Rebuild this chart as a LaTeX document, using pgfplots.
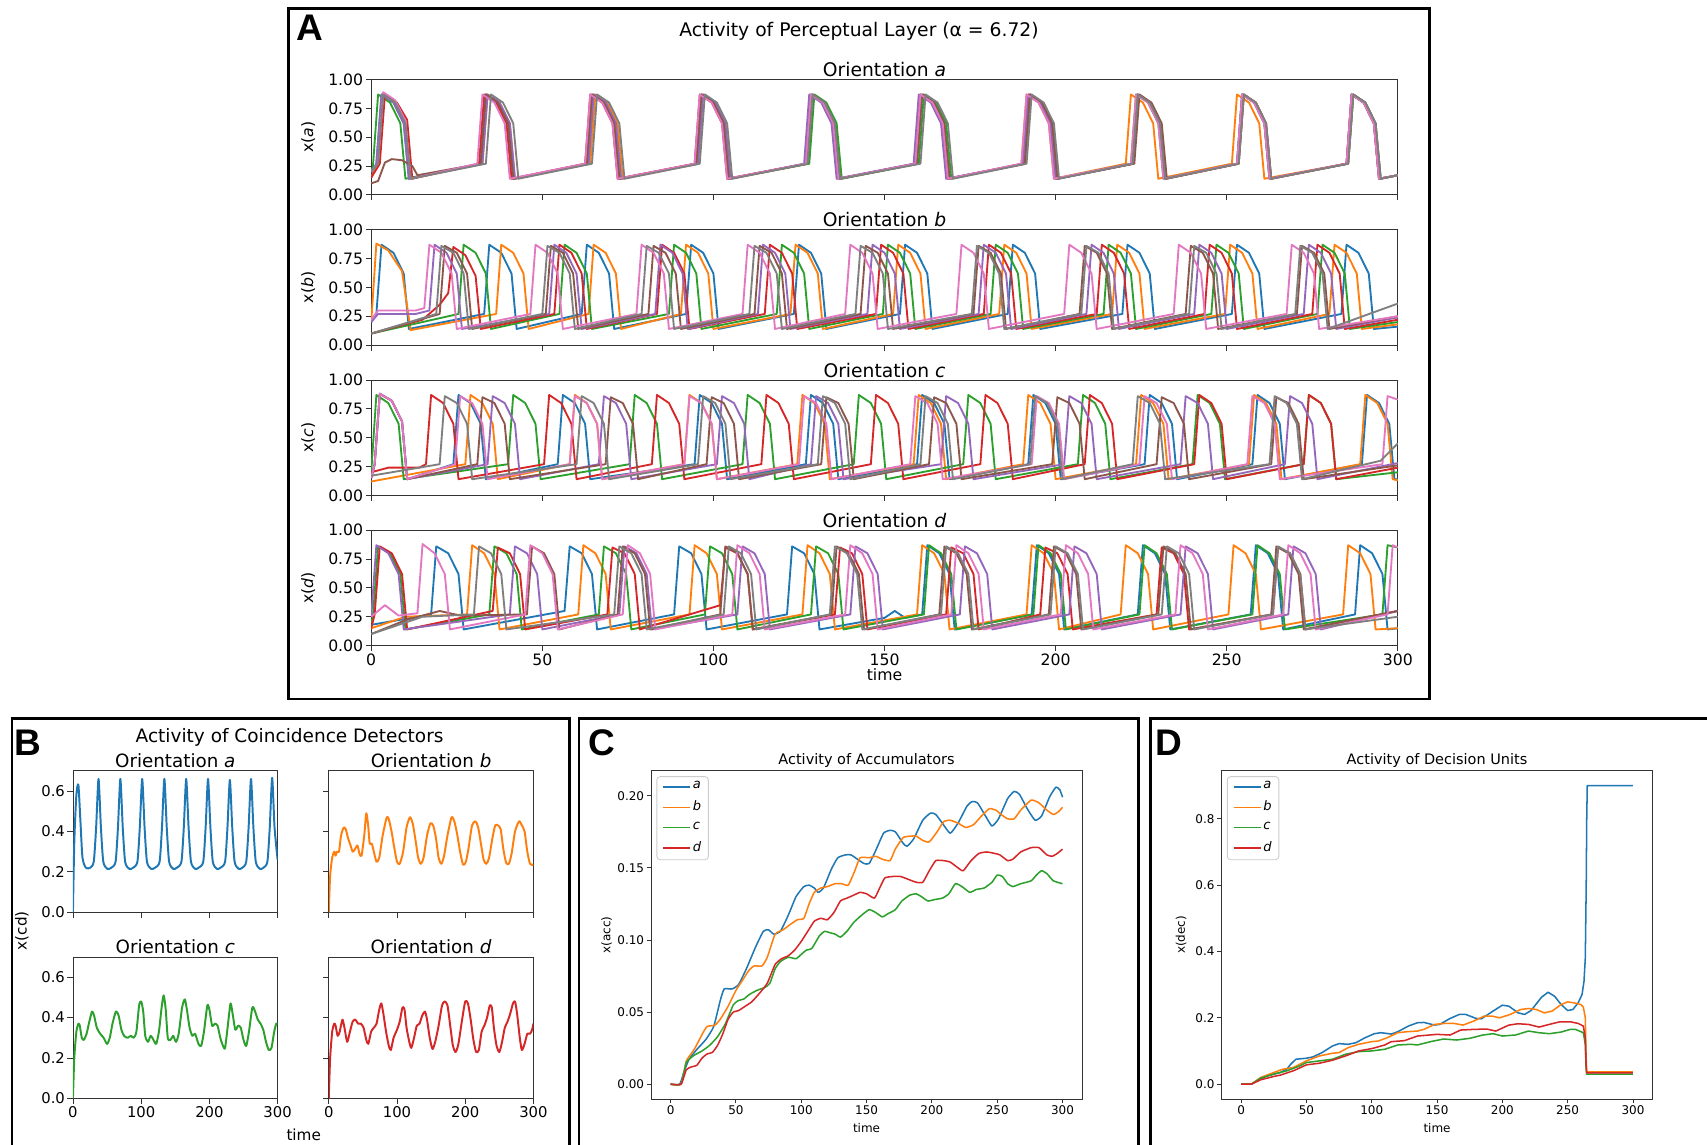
\documentclass[border=0pt]{standalone}
\usepackage{fontspec}
\setmainfont{DejaVu Sans}
\newfontfamily\lettfont{Liberation Sans}
\usepackage{pgfplots}
\pgfplotsset{compat=1.18}
\definecolor{c0}{HTML}{1F77B4}
\definecolor{c1}{HTML}{FF7F0E}
\definecolor{c2}{HTML}{2CA02C}
\definecolor{c3}{HTML}{D62728}
\definecolor{c4}{HTML}{9467BD}
\definecolor{c5}{HTML}{8C564B}
\definecolor{c6}{HTML}{E377C2}
\definecolor{c7}{HTML}{7F7F7F}
\pgfplotsset{
  base/.style={scale only axis, no markers, clip=true,
    axis line style={line width=0.4pt,black!80},
    tick style={line width=0.4pt,black!80},
    tick align=outside, tick pos=left,
    /pgf/number format/assume math mode=true,
    every axis title/.style={at={(0.5,1)},anchor=south,inner sep=0pt,yshift=2pt},
    tick label style={inner sep=1pt}},
  pA/.style={base, width=471.5pt, height=53pt, xmin=0, xmax=300, ymin=0, ymax=1,
    xtick={0,50,100,150,200,250,300}, ytick={0,0.25,0.5,0.75,1},
    yticklabel style={/pgf/number format/fixed,/pgf/number format/fixed zerofill,/pgf/number format/precision=2},
    major tick length=2.5pt,
    tick label style={font=\fontsize{7.2}{8}\selectfont},
    title style={font=\fontsize{8.6}{10}\selectfont, yshift=-1pt},
    ylabel style={font=\fontsize{7.2}{8}\selectfont, at={(axis description cs:-0.0615,0.5)}, anchor=center},
    every axis plot/.append style={line width=0.85pt, line join=round}},
  pB/.style={base, width=94pt, height=65pt, xmin=0, xmax=300, ymin=0, ymax=0.7,
    xtick={0,100,200,300}, ytick={0,0.2,0.4,0.6},
    yticklabel style={/pgf/number format/fixed,/pgf/number format/fixed zerofill,/pgf/number format/precision=1},
    major tick length=2.5pt,
    tick label style={font=\fontsize{6.8}{8}\selectfont},
    title style={font=\fontsize{8.4}{10}\selectfont, yshift=-0.7pt},
    every axis plot/.append style={line width=0.9pt, line join=round}},
  pC/.style={base, width=198pt, height=150.75pt, xmin=-15, xmax=315,
    xtick={0,50,100,150,200,250,300},
    major tick length=2pt,
    tick label style={font=\fontsize{5.5}{6.5}\selectfont},
    title style={font=\fontsize{6.65}{8}\selectfont, yshift=-0.6pt},
    label style={font=\fontsize{5.5}{6.5}\selectfont},
    xlabel style={at={(axis description cs:0.5,0)}, anchor=center, yshift=-13.25pt},
    every axis plot/.append style={line width=0.7pt, line join=round},
    legend style={at={(0,1)}, anchor=north west, xshift=2.5pt, yshift=-2.5pt,
      draw=black!20, line width=0.4pt, rounded corners=1.5pt, fill=white,
      inner xsep=2.5pt, inner ysep=1.5pt, font=\fontsize{6}{6.5}\selectfont,
      row sep=2.3pt, nodes={inner sep=0.8pt}, cells={anchor=west}},
    legend image code/.code={\draw[#1, line width=0.7pt] (0pt,0pt) -- (12.5pt,0pt);}},
}
\begin{document}
\begin{tikzpicture}
\path[use as bounding box] (0pt,0pt) rectangle (784pt,-525.5pt);
\clip (0pt,0pt) rectangle (784pt,-525.5pt);
\fill[white] (0pt,0pt) rectangle (784pt,-525.5pt);
% panel frames
\draw[line width=1.2pt] (132.5pt,-4pt) rectangle (656.5pt,-321pt);
\draw[line width=1.2pt] (5.5pt,-330pt) rectangle (261.5pt,-528pt);
\draw[line width=1.2pt] (266pt,-330pt) rectangle (523pt,-528pt);
\draw[line width=1.2pt] (528.5pt,-330pt) rectangle (790pt,-528pt);
\node[anchor=base west,inner sep=0pt,font=\lettfont\bfseries\fontsize{17}{17}\selectfont] at (136pt,-18.5pt) {A};
\node[anchor=base west,inner sep=0pt,font=\lettfont\bfseries\fontsize{17}{17}\selectfont] at (6.5pt,-347pt) {B};
\node[anchor=base west,inner sep=0pt,font=\lettfont\bfseries\fontsize{17}{17}\selectfont] at (270pt,-347pt) {C};
\node[anchor=base west,inner sep=0pt,font=\lettfont\bfseries\fontsize{17}{17}\selectfont] at (530.5pt,-347pt) {D};
\node[font=\fontsize{8.6}{10}\selectfont] at (394.5pt,-14.5pt) {Activity of Perceptual Layer (α = 6.72)};
\node[font=\fontsize{8.5}{10}\selectfont] at (133pt,-338.5pt) {Activity of Coincidence Detectors};
\node[font=\fontsize{7}{8}\selectfont,rotate=90] at (10pt,-427.5pt) {x(cd)};
\node[font=\fontsize{7}{8}\selectfont] at (139.5pt,-521pt) {time};

% ---------------- Panel A, orientation a
\begin{axis}[pA, at={(170.5pt,-89.5pt)}, anchor=south west, title={Orientation \textit{a}}, ylabel={x(\textit{a})}, xticklabels={}]
\addplot[c0] coordinates {(0,.15)(1.5,.27)(3,.87)(6.5,.8)(9.5,.62)(11,.14)(32,.27)(33.5,.87)(37,.8)(40,.62)(41.5,.14)(63.5,.27)(65,.87)(68.5,.8)(71.5,.62)(73,.14)(95,.27)(96.5,.87)(100,.8)(103,.62)(104.5,.14)(127,.27)(128.5,.87)(132,.8)(135,.62)(136.5,.14)(159,.27)(160.5,.87)(164,.8)(167,.62)(168.5,.14)(191,.27)(192.5,.87)(196,.8)(199,.62)(200.5,.14)(222.5,.27)(224,.87)(227.5,.8)(230.5,.62)(232,.14)(253,.27)(254.5,.87)(258,.8)(261,.62)(262.5,.14)(285,.27)(286.5,.87)(290,.8)(293,.62)(294.5,.14)(300,.17)};
\addplot[c1] coordinates {(0,.15)(2,.27)(3.5,.87)(7,.8)(10,.62)(11.5,.14)(32.5,.27)(34,.87)(37.5,.8)(40.5,.62)(42,.14)(64,.27)(65.5,.87)(69,.8)(72,.62)(73.5,.14)(95.5,.27)(97,.87)(100.5,.8)(103.5,.62)(105,.14)(127.5,.27)(129,.87)(132.5,.8)(135.5,.62)(137,.14)(159.5,.27)(161,.87)(164.5,.8)(167.5,.62)(169,.14)(190,.27)(191.5,.87)(195,.8)(198,.62)(199.5,.14)(220.5,.27)(222,.87)(225.5,.8)(228.5,.62)(230,.14)(251.5,.27)(253,.87)(256.5,.8)(259.5,.62)(261,.14)(285,.27)(286.5,.87)(290,.8)(293,.62)(294.5,.14)(300,.17)};
\addplot[c2] coordinates {(0,.2)(0.5,.25)(2,.87)(5.5,.8)(8.5,.62)(10,.14)(32,.27)(33.5,.87)(37,.8)(40,.62)(41.5,.14)(63,.27)(64.5,.87)(68,.8)(71,.62)(72.5,.14)(95,.27)(96.5,.87)(100,.8)(103,.62)(104.5,.14)(128,.27)(129.5,.87)(133,.8)(136,.62)(137.5,.14)(160,.27)(161.5,.87)(165,.8)(168,.62)(169.5,.14)(190.5,.27)(192,.87)(195.5,.8)(198.5,.62)(200,.14)(222,.27)(223.5,.87)(227,.8)(230,.62)(231.5,.14)(253,.27)(254.5,.87)(258,.8)(261,.62)(262.5,.14)(285.5,.27)(287,.87)(290.5,.8)(293.5,.62)(295,.14)(300,.17)};
\addplot[c3] coordinates {(0,.15)(2.5,.27)(4,.87)(7.5,.8)(10.5,.65)(12,.14)(31.5,.27)(33,.87)(36.5,.8)(39.5,.62)(41,.14)(62.5,.27)(64,.87)(67.5,.8)(70.5,.62)(72,.14)(94.5,.27)(96,.87)(99.5,.8)(102.5,.62)(104,.14)(127,.27)(128.5,.87)(132,.8)(135,.62)(136.5,.14)(159,.27)(160.5,.87)(164,.8)(167,.62)(168.5,.14)(191,.27)(192.5,.87)(196,.8)(199,.62)(200.5,.14)(222.5,.27)(224,.87)(227.5,.8)(230.5,.62)(232,.14)(253.5,.27)(255,.87)(258.5,.8)(261.5,.62)(263,.14)(285,.27)(286.5,.87)(290,.8)(293,.62)(294.5,.14)(300,.17)};
\addplot[c4] coordinates {(0,.2)(1.5,.27)(3,.87)(6.5,.8)(9.5,.62)(11,.14)(32.5,.27)(34,.87)(37.5,.8)(40.5,.62)(42,.14)(63.5,.27)(65,.87)(68.5,.8)(71.5,.62)(73,.14)(95.5,.27)(97,.87)(100.5,.8)(103.5,.62)(105,.14)(126.5,.27)(128,.87)(131.5,.8)(134.5,.62)(136,.14)(158.5,.27)(160,.87)(163.5,.8)(166.5,.62)(168,.14)(190.5,.27)(192,.87)(195.5,.8)(198.5,.62)(200,.14)(222.5,.27)(224,.87)(227.5,.8)(230.5,.62)(232,.14)(253,.27)(254.5,.87)(258,.8)(261,.62)(262.5,.14)(285,.27)(286.5,.87)(290,.8)(293,.62)(294.5,.14)(300,.17)};
\addplot[c5] coordinates {(0,.1)(2,.12)(4,.28)(6,.31)(9,.3)(12,.25)(13.5,.17)(32,.27)(33.5,.87)(37,.8)(40,.62)(41.5,.14)(63,.27)(64.5,.87)(68,.8)(71,.62)(72.5,.14)(95,.27)(96.5,.87)(100,.8)(103,.62)(104.5,.14)(127.5,.27)(129,.87)(132.5,.8)(135.5,.62)(137,.14)(159.5,.27)(161,.87)(164.5,.8)(167.5,.62)(169,.14)(191,.27)(192.5,.87)(196,.8)(199,.62)(200.5,.14)(223,.27)(224.5,.87)(228,.8)(231,.62)(232.5,.14)(253.5,.27)(255,.87)(258.5,.8)(261.5,.62)(263,.14)(285.5,.27)(287,.87)(290.5,.8)(293.5,.62)(295,.14)(300,.17)};
\addplot[c6] coordinates {(0,.2)(2,.27)(3.5,.89)(7,.82)(10,.64)(11.5,.14)(31,.27)(32.5,.87)(36,.8)(39,.62)(40.5,.14)(62.5,.27)(64,.87)(67.5,.8)(70.5,.62)(72,.14)(94.5,.27)(96,.87)(99.5,.8)(102.5,.62)(104,.14)(127,.27)(128.5,.87)(132,.8)(135,.62)(136.5,.14)(159,.27)(160.5,.87)(164,.8)(167,.62)(168.5,.14)(190,.27)(191.5,.87)(195,.8)(198,.62)(199.5,.14)(222,.27)(223.5,.87)(227,.8)(230,.62)(231.5,.14)(253,.27)(254.5,.87)(258,.8)(261,.62)(262.5,.14)(285,.27)(286.5,.87)(290,.8)(293,.62)(294.5,.14)(300,.17)};
\addplot[c7] coordinates {(0,.2)(2,.27)(3.5,.87)(7,.8)(10,.62)(11.5,.14)(33.5,.27)(35,.87)(38.5,.8)(41.5,.62)(43,.14)(64.5,.27)(66,.87)(69.5,.8)(72.5,.62)(74,.14)(96,.27)(97.5,.87)(101,.8)(104,.62)(105.5,.14)(127.5,.27)(129,.87)(132.5,.8)(135.5,.62)(137,.14)(160.5,.27)(162,.87)(165.5,.8)(168.5,.62)(170,.14)(191.5,.27)(193,.87)(196.5,.8)(199.5,.62)(201,.14)(222.5,.27)(224,.87)(227.5,.8)(230.5,.62)(232,.14)(253.5,.27)(255,.87)(258.5,.8)(261.5,.62)(263,.14)(285.5,.27)(287,.87)(290.5,.8)(293.5,.62)(295,.14)(300,.17)};
\end{axis}

% ---------------- Panel A, orientation b
\begin{axis}[pA, at={(170.5pt,-158.5pt)}, anchor=south west, title={Orientation \textit{b}}, ylabel={x(\textit{b})}, xticklabels={}]
\addplot[c0] coordinates {(0,.2)(1.5,.27)(3,.87)(6.5,.8)(9.5,.62)(11,.14)(33,.27)(34.5,.87)(38,.8)(41,.62)(42.5,.14)(61.5,.27)(63,.87)(66.5,.8)(69.5,.62)(71,.14)(92,.27)(93.5,.87)(97,.8)(100,.62)(101.5,.14)(123.5,.27)(125,.87)(128.5,.8)(131.5,.62)(133,.14)(154.5,.27)(156,.87)(159.5,.8)(162.5,.62)(164,.14)(186,.27)(187.5,.87)(191,.8)(194,.62)(195.5,.14)(219.5,.27)(221,.87)(224.5,.8)(227.5,.62)(229,.14)(251.5,.27)(253,.87)(256.5,.8)(259.5,.62)(261,.14)(283.5,.27)(285,.87)(288.5,.8)(291.5,.62)(293,.14)(300,.16)};
\addplot[c1] coordinates {(0,.2)(1.5,.88)(5,.82)(9,.64)(11.5,.13)(36.5,.27)(38,.87)(41.5,.8)(44.5,.62)(46,.14)(63.5,.27)(65,.87)(68.5,.8)(71.5,.62)(73,.14)(90.5,.27)(92,.87)(95.5,.8)(98.5,.62)(100,.14)(122.5,.27)(124,.87)(127.5,.8)(130.5,.62)(132,.14)(152.5,.27)(154,.87)(157.5,.8)(160.5,.62)(162,.14)(183.5,.27)(185,.87)(188.5,.8)(191.5,.62)(193,.14)(216.5,.27)(218,.87)(221.5,.8)(224.5,.62)(226,.14)(249.5,.27)(251,.87)(254.5,.8)(257.5,.62)(259,.14)(280,.27)(281.5,.87)(285,.8)(288,.62)(289.5,.14)(300,.18)};
\addplot[c2] coordinates {(0,.1)(25.5,.27)(27,.87)(30.5,.8)(33.5,.62)(35,.14)(55,.27)(56.5,.87)(60,.8)(63,.62)(64.5,.14)(87,.27)(88.5,.87)(92,.8)(95,.62)(96.5,.14)(118.5,.27)(120,.87)(123.5,.8)(126.5,.62)(128,.14)(149.5,.27)(151,.87)(154.5,.8)(157.5,.62)(159,.14)(181,.27)(182.5,.87)(186,.8)(189,.62)(190.5,.14)(214,.27)(215.5,.87)(219,.8)(222,.62)(223.5,.14)(245.5,.27)(247,.87)(250.5,.8)(253.5,.62)(255,.14)(276.5,.27)(278,.87)(281.5,.8)(284.5,.62)(286,.14)(300,.2)};
\addplot[c3] coordinates {(0,.1)(15,.22)(20,.35)(22.5,.45)(24,.85)(27.5,.78)(30.5,.6)(32,.14)(53.5,.27)(55,.87)(58.5,.8)(61.5,.62)(63,.14)(83.5,.27)(85,.87)(88.5,.8)(91.5,.62)(93,.14)(115,.27)(116.5,.87)(120,.8)(123,.62)(124.5,.14)(147.5,.27)(149,.87)(152.5,.8)(155.5,.62)(157,.14)(179,.27)(180.5,.87)(184,.8)(187,.62)(188.5,.14)(212,.27)(213.5,.87)(217,.8)(220,.62)(221.5,.14)(243.5,.27)(245,.87)(248.5,.8)(251.5,.62)(253,.14)(275,.27)(276.5,.87)(280,.8)(283,.62)(284.5,.14)(300,.22)};
\addplot[c4] coordinates {(0,.2)(2,.27)(13,.27)(17,.3)(18.5,.87)(22,.8)(25,.62)(26.5,.14)(52,.27)(53.5,.87)(57,.8)(60,.62)(61.5,.14)(83,.27)(84.5,.87)(88,.8)(91,.62)(92.5,.14)(113,.27)(114.5,.87)(118,.8)(121,.62)(122.5,.14)(145,.27)(146.5,.87)(150,.8)(153,.62)(154.5,.14)(177.5,.27)(179,.87)(182.5,.8)(185.5,.62)(187,.14)(209,.27)(210.5,.87)(214,.8)(217,.62)(218.5,.14)(240.5,.27)(242,.87)(245.5,.8)(248.5,.62)(250,.14)(272.5,.27)(274,.87)(277.5,.8)(280.5,.62)(282,.14)(300,.24)};
\addplot[c5] coordinates {(0,.1)(20,.27)(21.5,.86)(25,.8)(28,.62)(29.5,.14)(51,.27)(52.5,.86)(56,.8)(59,.62)(60.5,.14)(81,.27)(82.5,.86)(86,.8)(89,.62)(90.5,.14)(112,.27)(113.5,.86)(117,.8)(120,.62)(121.5,.14)(143,.27)(144.5,.86)(148,.8)(151,.62)(152.5,.14)(176,.27)(177.5,.86)(181,.8)(184,.62)(185.5,.14)(207,.27)(208.5,.86)(212,.8)(215,.62)(216.5,.14)(238,.27)(239.5,.86)(243,.8)(246,.62)(247.5,.14)(270.5,.27)(272,.86)(275.5,.8)(278.5,.62)(280,.14)(300,.25)};
\addplot[c6] coordinates {(0,.22)(2,.3)(13,.3)(15.5,.32)(17,.87)(20.5,.8)(23.5,.62)(25,.14)(46.5,.27)(48,.87)(51.5,.8)(54.5,.62)(56,.14)(77.5,.27)(79,.87)(82.5,.8)(85.5,.62)(87,.14)(108.5,.27)(110,.87)(113.5,.8)(116.5,.62)(118,.14)(138.5,.27)(140,.87)(143.5,.8)(146.5,.62)(148,.14)(171,.27)(172.5,.87)(176,.8)(179,.62)(180.5,.14)(202.5,.27)(204,.87)(207.5,.8)(210.5,.62)(212,.14)(234.5,.27)(236,.87)(239.5,.8)(242.5,.62)(244,.14)(267.5,.27)(269,.87)(272.5,.8)(275.5,.62)(277,.14)(300,.25)};
\addplot[c7] coordinates {(0,.1)(19,.27)(20.5,.86)(24,.8)(27,.62)(28.5,.14)(50,.27)(51.5,.86)(55,.8)(58,.62)(59.5,.14)(79,.27)(80.5,.86)(84,.8)(87,.62)(88.5,.14)(110.5,.27)(112,.86)(115.5,.8)(118.5,.62)(120,.14)(141.5,.27)(143,.86)(146.5,.8)(149.5,.62)(151,.14)(175.5,.27)(177,.86)(180.5,.8)(183.5,.62)(185,.14)(207.5,.27)(209,.86)(212.5,.8)(215.5,.62)(217,.14)(239,.27)(240.5,.86)(244,.8)(247,.62)(248.5,.14)(270,.27)(271.5,.86)(275,.8)(278,.62)(279.5,.14)(300,.36)};
\end{axis}

% ---------------- Panel A, orientation c
\begin{axis}[pA, at={(170.5pt,-227.5pt)}, anchor=south west, title={Orientation \textit{c}}, ylabel={x(\textit{c})}, xticklabels={}]
\addplot[c0] coordinates {(0,.15)(1,.27)(2.5,.88)(6,.82)(9,.64)(10.5,.14)(24,.27)(25.5,.87)(29,.8)(32,.62)(33.5,.14)(54.5,.27)(56,.87)(59.5,.8)(62.5,.62)(64,.14)(94.5,.27)(96,.87)(99.5,.8)(102.5,.62)(104,.14)(127,.27)(128.5,.87)(132,.8)(135,.62)(136.5,.14)(159.5,.27)(161,.87)(164.5,.8)(167.5,.62)(169,.14)(192,.27)(193.5,.87)(197,.8)(200,.62)(201.5,.14)(226,.27)(227.5,.87)(231,.8)(234,.62)(235.5,.14)(257.5,.27)(259,.87)(262.5,.8)(265.5,.62)(267,.14)(289.5,.27)(291,.87)(294.5,.8)(297.5,.62)(299,.14)(300,.14)};
\addplot[c1] coordinates {(0,.12)(27.5,.27)(29,.87)(32.5,.8)(35.5,.62)(37,.14)(58,.27)(59.5,.87)(63,.8)(66,.62)(67.5,.14)(91.5,.27)(93,.87)(96.5,.8)(99.5,.62)(101,.14)(124.5,.27)(126,.87)(129.5,.8)(132.5,.62)(134,.14)(158.5,.27)(160,.87)(163.5,.8)(166.5,.62)(168,.14)(190.5,.27)(192,.87)(195.5,.8)(198.5,.62)(200,.14)(223.5,.27)(225,.87)(228.5,.8)(231.5,.62)(233,.14)(256.5,.27)(258,.87)(261.5,.8)(264.5,.62)(266,.14)(289,.27)(290.5,.87)(294,.8)(297,.62)(298.5,.14)(300,.13)};
\addplot[c2] coordinates {(0,.2)(1.5,.87)(5,.8)(8,.62)(9.5,.14)(40,.27)(41.5,.87)(45,.8)(48,.62)(49.5,.14)(75.5,.27)(77,.87)(80.5,.8)(83.5,.62)(85,.14)(108.5,.27)(110,.87)(113.5,.8)(116.5,.62)(118,.14)(141,.27)(142.5,.87)(146,.8)(149,.62)(150.5,.14)(173,.27)(174.5,.87)(178,.8)(181,.62)(182.5,.14)(206.5,.27)(208,.87)(211.5,.8)(214.5,.62)(216,.14)(240,.27)(241.5,.87)(245,.8)(248,.62)(249.5,.14)(272.5,.27)(274,.87)(277.5,.8)(280.5,.62)(282,.14)(300,.2)};
\addplot[c3] coordinates {(0,.2)(5,.24)(14,.24)(16,.27)(17.5,.87)(21,.8)(24,.62)(25.5,.14)(50.5,.27)(52,.87)(55.5,.8)(58.5,.62)(60,.14)(82,.27)(83.5,.87)(87,.8)(90,.62)(91.5,.14)(114,.27)(115.5,.87)(119,.8)(122,.62)(123.5,.14)(146,.27)(147.5,.87)(151,.8)(154,.62)(155.5,.14)(178,.27)(179.5,.87)(183,.8)(186,.62)(187.5,.14)(208.5,.27)(210,.87)(213.5,.8)(216.5,.62)(218,.14)(240.5,.27)(242,.87)(245.5,.8)(248.5,.62)(250,.14)(272.5,.27)(274,.87)(277.5,.8)(280.5,.62)(282,.14)(300,.24)};
\addplot[c4] coordinates {(0,.15)(1,.27)(2.5,.88)(6,.82)(9,.64)(10.5,.14)(34,.27)(35.5,.86)(39,.8)(42,.62)(43.5,.14)(66.5,.27)(68,.86)(71.5,.8)(74.5,.62)(76,.14)(101,.27)(102.5,.86)(106,.8)(109,.62)(110.5,.14)(128.5,.27)(130,.86)(133.5,.8)(136.5,.62)(138,.14)(166.5,.27)(168,.86)(171.5,.8)(174.5,.62)(176,.14)(202.5,.27)(204,.86)(207.5,.8)(210.5,.62)(212,.14)(236.5,.27)(238,.86)(241.5,.8)(244.5,.62)(246,.14)(267,.27)(268.5,.86)(272,.8)(275,.62)(276.5,.14)(300,.28)};
\addplot[c5] coordinates {(0,.15)(1,.27)(2.5,.88)(6,.82)(9,.64)(10.5,.14)(31,.27)(32.5,.85)(36,.8)(39,.62)(40.5,.14)(68.5,.27)(70,.85)(73.5,.8)(76.5,.62)(78,.14)(98,.27)(99.5,.85)(103,.8)(106,.62)(107.5,.14)(131.5,.27)(133,.85)(136.5,.8)(139.5,.62)(141,.14)(163,.27)(164.5,.85)(168,.8)(171,.62)(172.5,.14)(199,.27)(200.5,.85)(204,.8)(207,.62)(208.5,.14)(229.5,.27)(231,.85)(234.5,.8)(237.5,.62)(239,.14)(263,.27)(264.5,.85)(268,.8)(271,.62)(272.5,.14)(300,.26)};
\addplot[c6] coordinates {(0,.15)(1,.27)(2.5,.88)(6,.82)(9,.64)(10.5,.14)(24.5,.27)(26,.86)(29.5,.8)(32.5,.62)(34,.14)(58,.27)(59.5,.86)(63,.8)(66,.62)(67.5,.14)(91.5,.27)(93,.86)(96.5,.8)(99.5,.62)(101,.14)(125,.27)(126.5,.86)(130,.8)(133,.62)(134.5,.14)(157.5,.27)(159,.86)(162.5,.8)(165.5,.62)(167,.14)(193,.27)(194.5,.86)(198,.8)(201,.62)(202.5,.14)(224.5,.27)(226,.86)(229.5,.8)(232.5,.62)(234,.14)(256,.27)(257.5,.86)(261,.8)(264,.62)(265.5,.14)(295.5,.27)(297,.86)(300,.83)};
\addplot[c7] coordinates {(0,.17)(20,.27)(21.5,.86)(25,.8)(28,.62)(29.5,.14)(60,.27)(61.5,.86)(65,.8)(68,.62)(69.5,.14)(95.5,.27)(97,.86)(100.5,.8)(103.5,.62)(105,.14)(130.5,.27)(132,.86)(135.5,.8)(138.5,.62)(140,.14)(160.5,.27)(162,.86)(165.5,.8)(168.5,.62)(170,.14)(192.5,.27)(194,.86)(197.5,.8)(200.5,.62)(202,.14)(222.5,.27)(224,.86)(227.5,.8)(230.5,.62)(232,.14)(262.5,.27)(264,.86)(267.5,.8)(270.5,.62)(272,.14)(295,.3)(300,.45)};
\end{axis}

% ---------------- Panel A, orientation d
\begin{axis}[pA, at={(170.5pt,-296.5pt)}, anchor=south west, title={Orientation \textit{d}}, ylabel={x(\textit{d})}, xlabel={time},
  xlabel style={font=\fontsize{7.2}{8}\selectfont, at={(axis description cs:0.5,0)}, anchor=center, yshift=-13.5pt}]
\addplot[c0] coordinates {(0,.18)(17.5,.27)(19,.86)(22.5,.8)(25.5,.62)(27,.14)(56.5,.3)(58,.86)(61.5,.8)(64.5,.62)(66,.14)(88.5,.27)(90,.86)(93.5,.8)(96.5,.62)(98,.14)(121.5,.27)(123,.86)(126.5,.8)(129.5,.62)(131,.14)(150,.24)(153,.3)(156,.24)(161,.27)(162.5,.87)(166,.8)(169,.62)(170.5,.14)(193,.27)(194.5,.87)(198,.8)(201,.62)(202.5,.14)(224,.27)(225.5,.87)(229,.8)(232,.62)(233.5,.14)(257,.27)(258.5,.87)(262,.8)(265,.62)(266.5,.14)(287.5,.27)(289,.87)(292.5,.8)(295.5,.62)(297,.14)(300,.15)};
\addplot[c1] coordinates {(0,.15)(10,.25)(28,.27)(29.5,.87)(33,.8)(36,.62)(37.5,.14)(60.5,.27)(62,.87)(65.5,.8)(68.5,.62)(70,.14)(93,.27)(94.5,.87)(98,.8)(101,.62)(102.5,.14)(126,.27)(127.5,.87)(131,.8)(134,.62)(135.5,.14)(159.5,.27)(161,.87)(164.5,.8)(167.5,.62)(169,.14)(191.5,.27)(193,.87)(196.5,.8)(199.5,.62)(201,.14)(219,.27)(220.5,.87)(224,.8)(227,.62)(228.5,.14)(250.5,.27)(252,.87)(255.5,.8)(258.5,.62)(260,.14)(284,.27)(285.5,.87)(289,.8)(292,.62)(293.5,.14)(300,.15)};
\addplot[c2] coordinates {(0,.2)(0.5,.25)(2,.86)(5.5,.8)(8.5,.62)(10,.14)(34.5,.27)(36,.86)(39.5,.8)(42.5,.62)(44,.14)(66.5,.27)(68,.86)(71.5,.8)(74.5,.62)(76,.14)(97.5,.27)(99,.86)(102.5,.8)(105.5,.62)(107,.14)(128.5,.27)(130,.86)(133.5,.8)(136.5,.62)(138,.14)(161.5,.27)(163,.87)(166.5,.8)(169.5,.62)(171,.14)(193.5,.27)(195,.87)(198.5,.8)(201.5,.62)(203,.14)(224.5,.27)(226,.87)(229.5,.8)(232.5,.62)(234,.14)(257.5,.27)(259,.87)(262.5,.8)(265.5,.62)(267,.14)(295.5,.27)(297,.87)(300,.85)};
\addplot[c3] coordinates {(0,.15)(1,.27)(2.5,.86)(6,.8)(9,.62)(10.5,.14)(35.5,.3)(37,.85)(40.5,.8)(43.5,.62)(45,.14)(69,.27)(70.5,.85)(74,.8)(77,.62)(78.5,.14)(102,.35)(103.5,.85)(107,.8)(110,.62)(111.5,.14)(135.5,.27)(137,.85)(140.5,.8)(143.5,.62)(145,.14)(168,.27)(169.5,.85)(173,.8)(176,.62)(177.5,.14)(195.5,.27)(197,.85)(200.5,.8)(203.5,.62)(205,.14)(229.5,.27)(231,.85)(234.5,.8)(237.5,.62)(239,.14)(263.5,.27)(265,.85)(268.5,.8)(271.5,.62)(273,.14)(300,.3)};
\addplot[c4] coordinates {(0,.25)(1.5,.87)(5,.8)(8,.62)(9.5,.14)(40.5,.27)(42,.86)(45.5,.8)(48.5,.62)(50,.14)(72.5,.27)(74,.86)(77.5,.8)(80.5,.62)(82,.14)(107,.27)(108.5,.86)(112,.8)(115,.62)(116.5,.14)(140,.27)(141.5,.86)(145,.8)(148,.62)(149.5,.14)(172,.27)(173.5,.86)(177,.8)(180,.62)(181.5,.14)(204,.27)(205.5,.86)(209,.8)(212,.62)(213.5,.14)(236.5,.27)(238,.86)(241.5,.8)(244.5,.62)(246,.14)(268,.27)(269.5,.86)(273,.8)(276,.62)(277.5,.14)(300,.3)};
\addplot[c5] coordinates {(0,.1)(10,.22)(20,.3)(26,.26)(45.5,.27)(47,.86)(50.5,.8)(53.5,.62)(55,.14)(72,.27)(73.5,.86)(77,.8)(80,.62)(81.5,.14)(102,.27)(103.5,.86)(107,.8)(110,.62)(111.5,.14)(134.5,.27)(136,.86)(139.5,.8)(142.5,.62)(144,.14)(166,.27)(167.5,.86)(171,.8)(174,.62)(175.5,.14)(198,.27)(199.5,.86)(203,.8)(206,.62)(207.5,.14)(230,.27)(231.5,.86)(235,.8)(238,.62)(239.5,.14)(263,.27)(264.5,.86)(268,.8)(271,.62)(272.5,.14)(300,.3)};
\addplot[c6] coordinates {(0,.25)(4,.35)(8,.26)(13.5,.28)(15,.88)(18.5,.8)(21.5,.62)(23,.14)(45,.27)(46.5,.87)(50,.8)(53,.62)(54.5,.14)(73.5,.27)(75,.87)(78.5,.8)(81.5,.62)(83,.14)(105.5,.27)(107,.87)(110.5,.8)(113.5,.62)(115,.14)(138.5,.27)(140,.87)(143.5,.8)(146.5,.62)(148,.14)(169.5,.27)(171,.87)(174.5,.8)(177.5,.62)(179,.14)(201.5,.27)(203,.87)(206.5,.8)(209.5,.62)(211,.14)(235,.27)(236.5,.87)(240,.8)(243,.62)(244.5,.14)(266.5,.27)(268,.87)(271.5,.8)(274.5,.62)(276,.14)(297,.27)(298.5,.87)(300,.85)};
\addplot[c7] coordinates {(0,.1)(15,.25)(30,.27)(31.5,.86)(35,.8)(38,.62)(39.5,.14)(71,.27)(72.5,.86)(76,.8)(79,.62)(80.5,.14)(103,.27)(104.5,.86)(108,.8)(111,.62)(112.5,.14)(134,.27)(135.5,.86)(139,.8)(142,.62)(143.5,.14)(166.5,.27)(168,.86)(171.5,.8)(174.5,.62)(176,.14)(198.5,.27)(200,.86)(203.5,.8)(206.5,.62)(208,.14)(231,.27)(232.5,.86)(236,.8)(239,.62)(240.5,.14)(263.5,.27)(265,.86)(268.5,.8)(271.5,.62)(273,.14)(300,.25)};
\end{axis}

% ---------------- Panel B
\begin{axis}[pB, at={(33.5pt,-419pt)}, anchor=south west, title={Orientation \textit{a}}, xticklabels={}]
\addplot[c0, smooth, tension=0.4] coordinates {(0,0)(2,.35)(5,.58)(8,.63)(11,.45)(14,.27)(19,.22)(25,.22)(30.5,.25)(34,.42)(37.5,.66)(41,.42)(44.5,.25)(50.5,.215)(56,.22)(62.5,.25)(66,.42)(69.5,.66)(73,.42)(76.5,.25)(82.5,.215)(88,.22)(94.5,.25)(98,.42)(101.5,.66)(105,.42)(108.5,.25)(114.5,.215)(120,.22)(127,.25)(130.5,.42)(134,.66)(137.5,.42)(141,.25)(147,.215)(152,.22)(159,.25)(162.5,.42)(166,.66)(169.5,.42)(173,.25)(179,.215)(184,.22)(191,.25)(194.5,.42)(198,.66)(201.5,.42)(205,.25)(211,.215)(216,.22)(223,.25)(226.5,.42)(230,.655)(233.5,.42)(237,.25)(243,.215)(248,.22)(254,.25)(257.5,.42)(261,.66)(264.5,.42)(268,.25)(274,.215)(279,.22)(285,.25)(288.5,.42)(292,.665)(295.5,.42)(300,.26)};
\end{axis}
\begin{axis}[pB, at={(151pt,-419pt)}, anchor=south west, title={Orientation \textit{b}}, xticklabels={}, yticklabels={}]
\addplot[c1, smooth, tension=0.4] coordinates {(0,0)(2,.18)(5,.27)(8,.3)(10,.28)(12,.3)(15,.3)(18,.38)(22,.42)(25,.41)(28,.37)(32,.33)(35,.3)(38,.31)(42,.33)(45,.29)(48,.28)(52,.38)(55,.49)(58,.42)(60,.34)(63,.34)(66,.3)(70,.25)(74,.27)(79,.38)(85,.47)(88,.46)(92,.4)(96,.32)(100,.25)(104,.24)(109,.3)(114,.42)(119,.47)(123,.44)(127,.36)(131,.27)(135,.24)(139,.27)(144,.38)(149,.44)(153,.43)(157,.37)(161,.27)(165,.24)(169,.28)(174,.38)(180,.47)(184,.45)(188,.39)(193,.29)(197,.235)(201,.25)(205,.32)(210,.43)(215,.45)(219,.42)(223,.34)(227,.26)(231,.24)(235,.27)(240,.37)(244,.43)(248,.43)(252,.41)(256,.31)(260,.245)(264,.24)(268,.29)(273,.4)(279,.45)(283,.43)(287,.4)(291,.3)(295,.24)(300,.235)};
\end{axis}
\begin{axis}[pB, at={(33.5pt,-504.5pt)}, anchor=south west, title={Orientation \textit{c}}]
\addplot[c2, smooth, tension=0.4] coordinates {(0,0)(2,.2)(5,.33)(8,.37)(10,.36)(13,.3)(16,.29)(20,.32)(24,.38)(28,.43)(31,.41)(35,.35)(40,.32)(45,.3)(50,.27)(54,.3)(58,.37)(63,.43)(67,.41)(71,.34)(75,.31)(80,.3)(85,.31)(89,.3)(93,.33)(97,.46)(100,.48)(103,.43)(106,.31)(110,.28)(114,.31)(118,.29)(122,.27)(126,.33)(130,.45)(133,.51)(136,.44)(139,.3)(143,.29)(147,.31)(151,.28)(155,.32)(160,.45)(164,.49)(167,.44)(171,.35)(175,.31)(179,.32)(184,.27)(188,.26)(192,.33)(197,.46)(200,.44)(204,.36)(208,.37)(212,.36)(216,.3)(220,.26)(223,.25)(227,.36)(231,.47)(234,.42)(238,.34)(242,.36)(246,.35)(250,.29)(254,.26)(258,.33)(263,.45)(267,.43)(271,.39)(275,.37)(279,.34)(283,.28)(287,.24)(291,.25)(295,.33)(298,.37)(300,.37)};
\end{axis}
\begin{axis}[pB, at={(151pt,-504.5pt)}, anchor=south west, title={Orientation \textit{d}}, yticklabels={}]
\addplot[c3, smooth, tension=0.4] coordinates {(0,0)(2,.2)(5,.33)(8,.37)(10,.36)(13,.31)(16,.33)(20,.39)(23,.35)(27,.28)(31,.33)(35,.38)(39,.39)(43,.37)(47,.37)(51,.35)(55,.29)(58,.27)(62,.33)(66,.35)(70,.37)(74,.44)(77,.47)(80,.42)(84,.33)(88,.26)(91,.24)(95,.3)(100,.34)(104,.38)(108,.45)(111,.44)(114,.35)(118,.28)(121,.25)(125,.3)(129,.36)(133,.37)(137,.41)(141,.43)(144,.39)(148,.3)(152,.245)(156,.28)(161,.36)(166,.46)(170,.48)(174,.46)(178,.36)(182,.26)(186,.23)(190,.27)(195,.38)(200,.48)(204,.47)(208,.39)(212,.29)(216,.23)(220,.24)(224,.33)(228,.36)(232,.4)(236,.46)(239,.45)(242,.35)(246,.26)(250,.23)(254,.28)(258,.35)(262,.38)(266,.42)(270,.47)(273,.48)(276,.42)(280,.3)(283,.24)(287,.27)(291,.32)(295,.32)(298,.34)(300,.37)};
\end{axis}

% ---------------- Panel C
\begin{axis}[pC, at={(299pt,-504.75pt)}, anchor=south west, ymin=-0.0103, ymax=0.2173,
  ytick={0,0.05,0.1,0.15,0.2},
  yticklabel style={/pgf/number format/fixed,/pgf/number format/fixed zerofill,/pgf/number format/precision=2},
  title={Activity of Accumulators}, xlabel={time}, ylabel={x(acc)},
  ylabel style={at={(axis description cs:-0.103,0.5)}, anchor=center}]
\addplot[c0, smooth, tension=0.3] coordinates {(0,0)(7,0)(10,.008)(14,.017)(20,.024)(27,.031)(33,.04)(38,.058)(41,.066)(47,.066)(52,.069)(58,.08)(65,.095)(71,.106)(75,.107)(79,.104)(84,.106)(90,.117)(96,.13)(102,.137)(106,.138)(110,.136)(113,.133)(117,.136)(123,.149)(128,.157)(134,.159)(138,.159)(143,.156)(148,.153)(152,.153)(157,.162)(163,.174)(168,.176)(172,.175)(178,.167)(181,.165)(186,.17)(193,.183)(199,.188)(203,.187)(208,.181)(214,.174)(220,.181)(227,.193)(231,.196)(235,.195)(241,.186)(246,.179)(251,.184)(258,.198)(263,.203)(267,.201)(273,.191)(279,.183)(284,.186)(290,.199)(295,.206)(298,.204)(300,.199)};
\addlegendentry{\textit{a}}
\addplot[c1, smooth, tension=0.3] coordinates {(0,0)(8,0)(12,.016)(18,.024)(25,.036)(28,.04)(34,.041)(38,.045)(44,.054)(50,.065)(55,.072)(60,.079)(64,.082)(70,.082)(74,.088)(80,.104)(86,.107)(92,.111)(97,.114)(102,.115)(106,.125)(110,.133)(115,.136)(120,.137)(126,.139)(131,.139)(136,.138)(141,.148)(145,.157)(152,.157)(157,.158)(162,.156)(168,.155)(172,.163)(178,.171)(184,.172)(188,.172)(193,.169)(198,.168)(204,.175)(209,.182)(214,.183)(220,.181)(226,.178)(232,.18)(238,.186)(244,.191)(249,.19)(253,.187)(258,.184)(263,.184)(268,.19)(276,.197)(282,.195)(288,.19)(293,.187)(297,.189)(300,.192)};
\addlegendentry{\textit{b}}
\addplot[c2, smooth, tension=0.3] coordinates {(0,0)(8,0)(12,.015)(18,.02)(24,.023)(30,.027)(36,.033)(42,.042)(48,.055)(52,.058)(56,.059)(60,.062)(66,.065)(72,.067)(76,.07)(80,.08)(84,.085)(90,.088)(96,.087)(100,.09)(104,.093)(108,.094)(114,.103)(118,.106)(122,.105)(126,.104)(130,.102)(135,.106)(140,.112)(146,.117)(152,.121)(157,.119)(162,.116)(166,.118)(172,.121)(177,.127)(183,.131)(188,.132)(192,.13)(197,.127)(202,.128)(208,.129)(213,.132)(218,.139)(223,.137)(229,.133)(234,.135)(240,.136)(246,.14)(250,.145)(254,.144)(258,.139)(262,.137)(268,.139)(276,.141)(280,.145)(284,.148)(288,.146)(293,.141)(300,.139)};
\addlegendentry{\textit{c}}
\addplot[c3, smooth, tension=0.3] coordinates {(0,0)(8,0)(12,.01)(16,.012)(20,.013)(24,.018)(28,.021)(32,.022)(36,.027)(40,.035)(44,.045)(48,.05)(52,.051)(57,.054)(62,.057)(68,.063)(74,.07)(80,.083)(85,.087)(90,.089)(95,.093)(100,.099)(105,.106)(110,.113)(115,.115)(120,.114)(125,.119)(130,.127)(135,.129)(140,.131)(145,.133)(150,.132)(156,.129)(160,.136)(164,.143)(170,.144)(176,.144)(182,.142)(188,.14)(193,.14)(198,.148)(203,.155)(209,.155)(214,.154)(220,.15)(224,.148)(230,.155)(236,.16)(242,.161)(248,.16)(252,.159)(258,.155)(262,.156)(268,.161)(276,.164)(282,.164)(288,.159)(292,.158)(296,.16)(300,.163)};
\addlegendentry{\textit{d}}
\end{axis}

% ---------------- Panel D
\begin{axis}[pC, at={(561pt,-504.75pt)}, anchor=south west, ymin=-0.045, ymax=0.945,
  ytick={0,0.2,0.4,0.6,0.8},
  yticklabel style={/pgf/number format/fixed,/pgf/number format/fixed zerofill,/pgf/number format/precision=1},
  title={Activity of Decision Units}, xlabel={time}, ylabel={x(dec)},
  ylabel style={at={(axis description cs:-0.0937,0.5)}, anchor=center}]
\addplot[c0] coordinates {(0,0)(8,0)(12,.01)(20,.025)(30,.035)(35,.045)(38,.06)(42,.075)(50,.078)(55,.082)(62,.095)(70,.115)(75,.122)(82,.12)(88,.125)(95,.14)(102,.152)(107,.155)(115,.151)(120,.158)(128,.175)(135,.185)(140,.186)(148,.178)(152,.18)(160,.198)(167,.21)(172,.21)(180,.198)(184,.197)(192,.218)(200,.238)(205,.235)(212,.215)(217,.21)(222,.222)(230,.262)(235,.277)(240,.265)(245,.24)(250,.222)(254,.225)(258,.245)(261,.27)(262.5,.31)(263.5,.38)(264.2,.6)(264.6,.8)(265,.9)(300,.9)};
\addlegendentry{\textit{a}}
\addplot[c1] coordinates {(0,0)(8,0)(15,.02)(25,.035)(32,.045)(40,.05)(50,.07)(60,.085)(70,.093)(75,.095)(82,.11)(90,.12)(100,.128)(105,.13)(112,.14)(120,.155)(127,.158)(135,.16)(140,.165)(148,.18)(156,.183)(163,.183)(170,.178)(178,.19)(186,.205)(192,.205)(198,.2)(206,.21)(214,.225)(220,.228)(226,.225)(232,.215)(238,.22)(245,.24)(250,.248)(255,.245)(260,.24)(262,.232)(263.5,.2)(264,.1)(264.5,.037)(300,.037)};
\addlegendentry{\textit{b}}
\addplot[c2] coordinates {(0,0)(8,0)(15,.018)(25,.03)(35,.04)(45,.055)(50,.065)(60,.07)(70,.075)(80,.09)(90,.098)(100,.1)(110,.105)(120,.118)(130,.12)(135,.118)(145,.128)(155,.136)(165,.133)(175,.138)(185,.148)(193,.152)(200,.145)(210,.148)(220,.16)(228,.155)(236,.152)(245,.157)(252,.165)(256,.165)(262,.155)(263.5,.12)(264,.06)(264.5,.03)(300,.03)};
\addlegendentry{\textit{c}}
\addplot[c3] coordinates {(0,0)(8,0)(15,.013)(25,.023)(30,.027)(40,.04)(50,.058)(60,.063)(70,.072)(80,.085)(90,.1)(100,.107)(110,.118)(115,.128)(125,.131)(135,.145)(150,.15)(160,.148)(168,.163)(178,.165)(188,.166)(195,.16)(205,.178)(212,.182)(220,.18)(228,.172)(236,.18)(244,.188)(252,.188)(258,.183)(262,.175)(263.5,.14)(264,.07)(264.5,.034)(300,.034)};
\addlegendentry{\textit{d}}
\end{axis}
\end{tikzpicture}
\end{document}
